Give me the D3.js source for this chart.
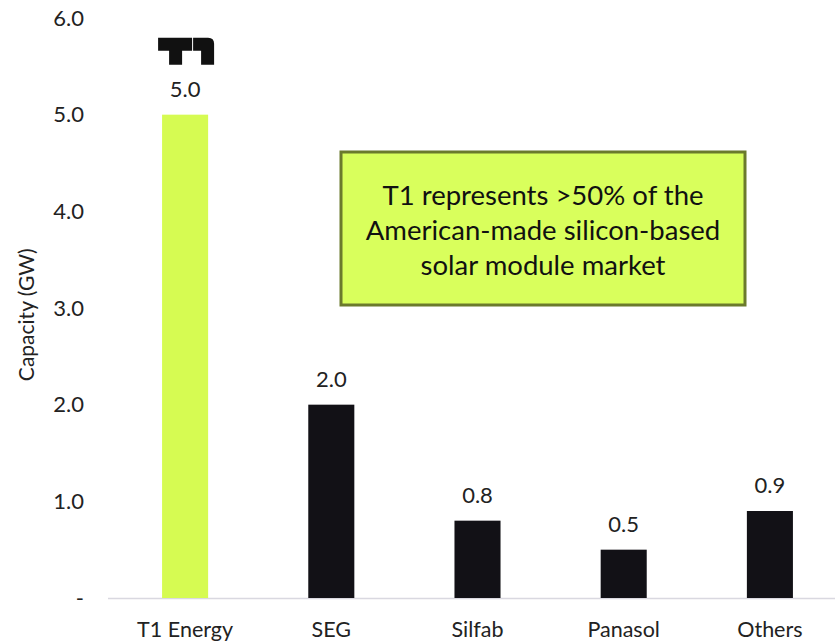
<!DOCTYPE html>
<html><head><meta charset="utf-8">
<script src="https://cdn.jsdelivr.net/npm/d3@7"></script>
<style>body{margin:0;background:#fff}svg{display:block}text{font-family:Lato,"Open Sans",sans-serif}</style>
</head><body><svg id="c" width="835" height="642"></svg>
<script>
const categories = ["T1 Energy","SEG","Silfab","Panasol","Others"];
const values = [5.0, 2.0, 0.8, 0.5, 0.9];
const tickValues = [0,1,2,3,4,5,6];
const tickLabels = ["-","1.0","2.0","3.0","4.0","5.0","6.0"];
const highlight = "T1 Energy";
const noteLines = ["T1 represents >50% of the","American-made silicon-based","solar module market"];

const svg = d3.select("#c");
const y = d3.scaleLinear().domain([0,6]).range([598,18]);
const x = d3.scaleBand().domain(categories).range([112,843]).paddingInner(0.685).paddingOuter(0.3425);

// baseline
svg.append("line").attr("x1",108).attr("x2",835).attr("y1",y(0)+0.5).attr("y2",y(0)+0.5)
  .attr("stroke","#d9d8e0").attr("stroke-width",1.5);

// y tick labels
svg.append("g").selectAll("text").data(tickValues).join("text")
  .attr("x",84).attr("y",d=>y(d)).attr("dy","0.35em").attr("text-anchor","end")
  .attr("font-size",22).attr("fill","#222").text((d,i)=>tickLabels[i]);

// y title
svg.append("text").attr("transform",`translate(34,${y(2.93)}) rotate(-90)`)
  .attr("text-anchor","middle").attr("font-size",21).attr("fill","#222").text("Capacity (GW)");

// bars
svg.append("g").selectAll("rect").data(categories).join("rect")
  .attr("x",d=>x(d)).attr("width",x.bandwidth())
  .attr("y",(d,i)=>y(values[i])).attr("height",(d,i)=>y(0)-y(values[i]))
  .attr("fill",d=>d===highlight?"#d6fb52":"#121116");

// value labels
svg.append("g").selectAll("text").data(categories).join("text")
  .attr("x",d=>x(d)+x.bandwidth()/2).attr("y",(d,i)=>y(values[i])-18)
  .attr("text-anchor","middle").attr("font-size",22).attr("fill","#222")
  .text((d,i)=>values[i].toFixed(1));

// category labels
svg.append("g").selectAll("text").data(categories).join("text")
  .attr("x",d=>x(d)+x.bandwidth()/2).attr("y",637)
  .attr("text-anchor","middle").attr("font-size",21.5).attr("fill","#222").text(d=>d);

// T1 logo above highlighted bar
const cx = x(highlight)+x.bandwidth()/2;
const ly = y(values[0]) - 77;
const logo = svg.append("g").attr("transform",`translate(${cx-27},${ly})`).attr("fill","#111");
logo.append("path").attr("d","M0,0 H34 V13 H24 V27 H11 V13 H0 Z");
logo.append("path").attr("d","M35,0 H50 Q56,0 56,6 V27 H43 V13 H35 Z");

// note box
svg.append("rect").attr("x",341).attr("y",152).attr("width",404).attr("height",153)
  .attr("fill","#d9ff5c").attr("stroke","#6b7a2c").attr("stroke-width",3);
svg.append("g").selectAll("text").data(noteLines).join("text")
  .attr("x",543).attr("y",(d,i)=>205+i*35).attr("text-anchor","middle")
  .attr("font-size",27.5).attr("fill","#111").text(d=>d);
</script></body></html>
